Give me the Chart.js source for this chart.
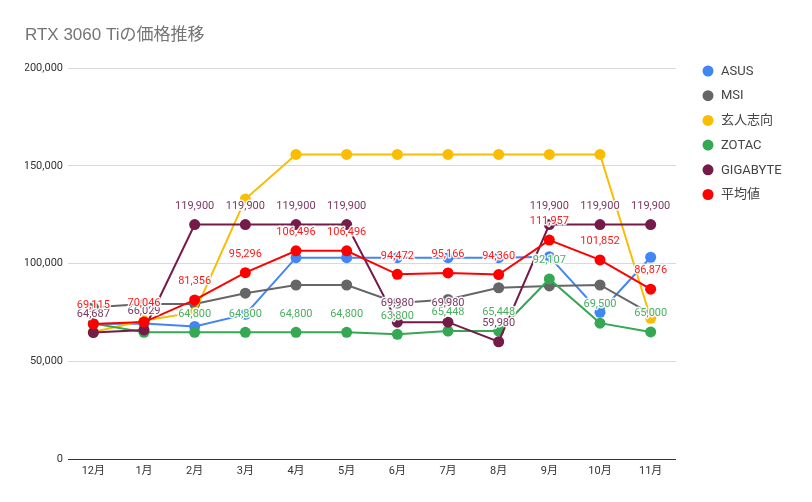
<!DOCTYPE html>
<html>
<head>
<meta charset="utf-8">
<script src="https://cdn.jsdelivr.net/npm/chart.js@4/dist/chart.umd.min.js"></script>
<style>html,body{margin:0;padding:0;background:#fff;}canvas{display:block;}</style>
</head>
<body>
<canvas id="c" width="812" height="502"></canvas>
<script>
const chartTitle = 'RTX 3060 Tiの価格推移';
const months = ['12月','1月','2月','3月','4月','5月','6月','7月','8月','9月','10月','11月'];
const seriesNames = ['ASUS','MSI','玄人志向','ZOTAC','GIGABYTE','平均値'];
const asus     = [69000, 69300, 67800, 73980, 102980, 102980, 102980, 102980, 102980, 103480, 75060, 103200];
const msi      = [77600, 79300, 79300, 84800, 89000, 89000, 79800, 81620, 87590, 88500, 89000, 74300];
const kuroshiko= [64980, 70800, 74980, 132980, 155800, 155800, 155800, 155800, 155800, 155800, 155800, 71980];
const zotac    = [69308, 64800, 64800, 64800, 64800, 64800, 63800, 65448, 65448, 92107, 69500, 65000];
const gigabyte = [64687, 66029, 119900, 119900, 119900, 119900, 69980, 69980, 59980, 119900, 119900, 119900];
const average  = [69115, 70046, 81356, 95296, 106496, 106496, 94472, 95166, 94360, 111957, 101852, 86876];
const yTicks = [0, 50000, 100000, 150000, 200000];
// which series carry value labels, and points whose label is hidden
const labeledSeries = ['ZOTAC', 'GIGABYTE', '平均値'];
const hiddenLabelIdx = { 'ZOTAC': [0, 1] };

const colors = ['#4285f4', '#666666', '#fbbc04', '#34a853', '#741b47', '#ff0000'];
const labelColors = { 'ZOTAC': '#49b060', 'GIGABYTE': '#7b3862', '平均値': '#ff1a1a' };
const values = [asus, msi, kuroshiko, zotac, gigabyte, average];

const datasets = seriesNames.map((n, i) => ({
  label: n,
  data: values[i],
  borderColor: colors[i],
  backgroundColor: colors[i],
  pointBackgroundColor: colors[i],
  pointBorderWidth: 0,
  pointRadius: 5.5,
  pointHoverRadius: 5.5,
  borderWidth: 2,
  tension: 0,
  order: seriesNames.length - i
}));

const CJK = '"Noto Sans CJK JP"';
const extras = {
  id: 'extras',
  afterDatasetsDraw(chart) {
    const ctx = chart.ctx;
    ctx.save();
    ctx.font = '11px Roboto, ' + CJK;
    ctx.textAlign = 'center';
    ctx.textBaseline = 'middle';
    ctx.lineJoin = 'round';
    labeledSeries.forEach(name => {
      const di = seriesNames.indexOf(name);
      const meta = chart.getDatasetMeta(di);
      const hid = hiddenLabelIdx[name] || [];
      meta.data.forEach((pt, j) => {
        if (hid.includes(j)) return;
        const txt = values[di][j].toLocaleString('en-US');
        const y = pt.y - 18.5;
        ctx.strokeStyle = 'rgba(255,255,255,0.9)';
        ctx.lineWidth = 3;
        ctx.strokeText(txt, pt.x, y);
        ctx.fillStyle = labelColors[name];
        ctx.fillText(txt, pt.x, y);
      });
    });
    ctx.restore();
  },
  afterDraw(chart) {
    const ctx = chart.ctx;
    ctx.save();
    ctx.font = '17px "Liberation Sans", Arial, ' + CJK;
    ctx.fillStyle = '#757575';
    ctx.textAlign = 'left';
    ctx.textBaseline = 'middle';
    ctx.fillText(chartTitle, 25, 35);
    ctx.font = '13px Roboto, ' + CJK;
    seriesNames.forEach((n, i) => {
      const y = 71 + i * 24.7;
      ctx.beginPath();
      ctx.arc(708, y, 5.5, 0, Math.PI * 2);
      ctx.fillStyle = colors[i];
      ctx.fill();
      ctx.fillStyle = '#444444';
      ctx.fillText(n, 721, y + 0.5);
    });
    ctx.restore();
  }
};

new Chart(document.getElementById('c'), {
  type: 'line',
  data: { labels: months, datasets },
  options: {
    responsive: false,
    animation: false,
    events: [],
    layout: { padding: { top: 68, left: 25, right: 136, bottom: 0 } },
    plugins: { legend: { display: false }, title: { display: false }, tooltip: { enabled: false } },
    scales: {
      x: {
        offset: true,
        grid: { display: false, drawTicks: false },
        border: { display: false },
        ticks: { color: '#333333', font: { size: 11, family: 'Roboto, ' + CJK }, padding: 6, maxRotation: 0, autoSkip: false },
        afterFit(s) { s.height = 43; }
      },
      y: {
        min: 0, max: 200000,
        afterBuildTicks(s) { s.ticks = yTicks.map(v => ({ value: v })); },
        grid: {
          drawTicks: false,
          color: c => (c.tick && c.tick.value === 0) ? '#333333' : '#d9d9d9',
          lineWidth: 1
        },
        border: { display: false },
        ticks: {
          color: '#333333', font: { size: 11, family: 'Roboto, ' + CJK }, padding: 5,
          callback: v => v.toLocaleString('en-US')
        },
        afterFit(s) { s.width = 43; }
      }
    }
  },
  plugins: [extras]
});
</script>
</body>
</html>
